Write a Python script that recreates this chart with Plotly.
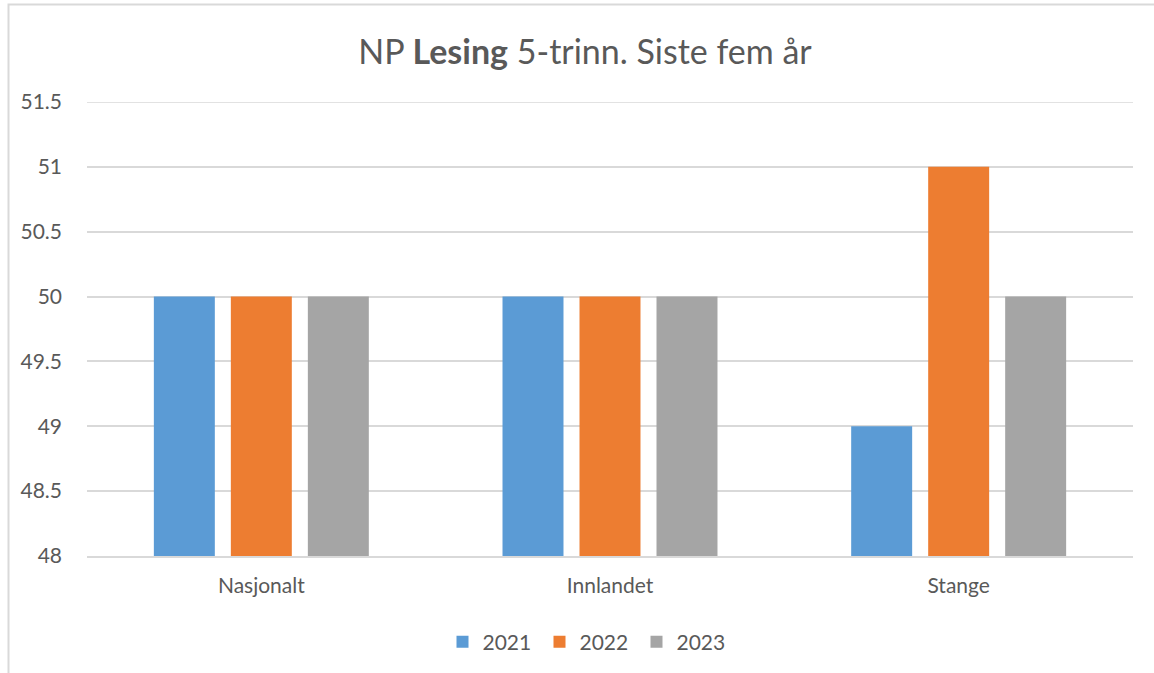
import plotly.graph_objects as go

categories = ["Nasjonalt", "Innlandet", "Stange"]
years = ["2021", "2022", "2023"]
values_2021 = [50, 50, 49]
values_2022 = [50, 50, 51]
values_2023 = [50, 50, 50]
y_ticks = [48, 48.5, 49, 49.5, 50, 50.5, 51, 51.5]
y_tick_labels = ["48", "48.5", "49", "49.5", "50", "50.5", "51", "51.5"]

colors = ["#5B9BD5", "#ED7D31", "#A5A5A5"]
series = [values_2021, values_2022, values_2023]

W, H = 1154, 673
L, R, T, B = 87, 21, 102, 117
TEXT = "#595959"
GRID = "#D9D9D9"
FONT = "Lato, Carlito, Calibri, sans-serif"

fig = go.Figure()
for name, vals, col in zip(years, series, colors):
    fig.add_trace(go.Bar(x=categories, y=vals, name=name, marker=dict(color=col, line=dict(width=0))))

pw = W - L - R
ph = H - T - B

fig.update_layout(
    width=W, height=H,
    margin=dict(l=L, r=R, t=T, b=B, autoexpand=False),
    paper_bgcolor="white", plot_bgcolor="white",
    font=dict(family=FONT, color=TEXT, size=21),
    barmode="group", bargap=0.3375, bargroupgap=0.208,
    title=dict(text="NP <b>Lesing</b> 5-trinn. Siste fem år", x=585 / W, xanchor="center",
               y=1 - 52 / H, yanchor="middle", xref="container", yref="container",
               font=dict(family=FONT, size=34, color=TEXT)),
    legend=dict(orientation="h", x=588 / W, xanchor="center", xref="container",
                y=1 - 642 / H, yanchor="middle", yref="container",
                font=dict(family=FONT, size=21, color=TEXT), traceorder="normal",
                entrywidth=52, itemwidth=30),
    showlegend=True,
)
fig.update_xaxes(showgrid=False, showline=True, linecolor=GRID, linewidth=1.5,
                 ticks="", ticklabelstandoff=10, tickfont=dict(size=21, color=TEXT))
fig.update_yaxes(range=[y_ticks[0], y_ticks[-1]], tickvals=y_ticks, ticktext=y_tick_labels,
                 showgrid=True, gridcolor=GRID, gridwidth=1.5, zeroline=False,
                 showline=False, ticks="", ticklabelstandoff=24,
                 tickfont=dict(size=21, color=TEXT))

# top gridline (plotly skips the gridline at the range edge)
fig.add_shape(type="line", xref="paper", yref="y", x0=0, x1=1,
              y0=y_ticks[-1], y1=y_ticks[-1], line=dict(color=GRID, width=1.5), layer="below")

# chart-area border (extends beyond the captured window on right/bottom)
fig.add_shape(type="rect", xref="paper", yref="paper",
              x0=(8.5 - L) / pw, x1=(W + 20 - L) / pw,
              y0=-(B + 20) / ph, y1=(H - 4.5 - B) / ph,
              line=dict(color=GRID, width=2), fillcolor="rgba(0,0,0,0)", layer="below")

fig.write_html("out.html", config={"displayModeBar": False},
               post_script="document.body.style.margin='0px';")
